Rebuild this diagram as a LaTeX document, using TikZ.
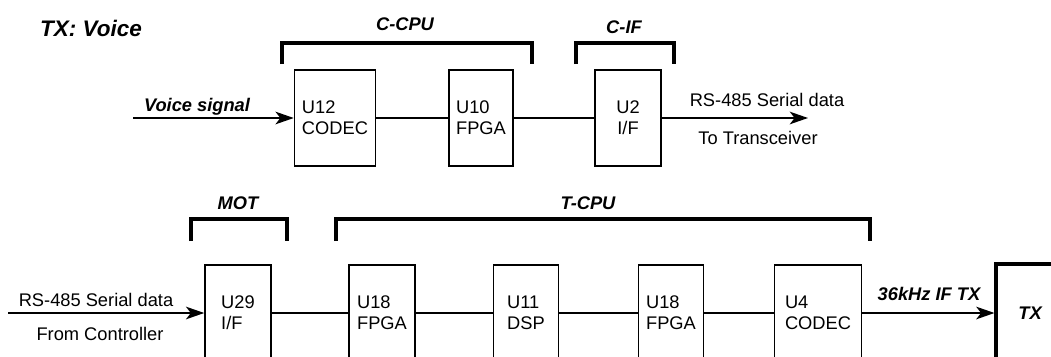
\documentclass[tikz,border=0pt]{standalone}
\usepackage{fontspec}
\setmainfont{Liberation Sans}
\usepackage{tikz}
\usetikzlibrary{arrows.meta}

\begin{document}
\begin{tikzpicture}[
    x=0.025cm, y=-0.025cm,
    font=\fontsize{13}{15}\selectfont,
    blk/.style={draw, line width=1.1pt, minimum height=2.4cm, align=left},
    txbox/.style={draw, line width=2.2pt, minimum width=1.7cm, minimum height=2.45cm, font=\fontsize{13}{15}\selectfont\bfseries\itshape},
    lbl/.style={anchor=base, inner sep=0pt},
    tag/.style={anchor=base, inner sep=0pt, font=\fontsize{13}{15}\selectfont\bfseries\itshape},
    brk/.style={line width=2.8pt},
    wire/.style={line width=1.1pt},
    arr/.style={-{Stealth[length=13pt, width=9pt, inset=3.5pt]}, line width=1.1pt}
]
\clip (0,0) rectangle (1051,356);

\node[tag, font=\fontsize{16}{18}\selectfont\bfseries\itshape] (title) at (91,36) {TX: Voice};

\node[tag] (ccpu) at (405,30) {C-CPU};
\node[tag] (cif) at (624,33) {C-IF};
\node[tag] (mot) at (238,209) {MOT};
\node[tag] (tcpu) at (588,209) {T-CPU};

\draw[brk] (282,64) |- (532,43) -- (532,64);
\draw[brk] (576,64) |- (674,43) -- (674,64);
\draw[brk] (191,241) |- (287,219) -- (287,241);
\draw[brk] (336,241) |- (870,219) -- (870,241);

\node[blk, minimum width=2.025cm] (u12) at (335,118) {U12\\CODEC};
\node[blk, minimum width=1.6cm] (u10) at (481,118) {U10\\FPGA};
\node[blk, minimum width=1.65cm, align=center] (u2) at (628,118) {U2\\I/F};

\node[blk, minimum width=1.65cm] (u29) at (238,313) {U29\\I/F};
\node[blk, minimum width=1.65cm] (u18a) at (382,313) {U18\\FPGA};
\node[blk, minimum width=1.625cm] (u11) at (526,313) {U11\\DSP};
\node[blk, minimum width=1.625cm] (u18b) at (671,313) {U18\\FPGA};
\node[blk, minimum width=2.175cm] (u4) at (818,313) {U4\\CODEC};
\node[txbox] (tx) at (1030,313) {TX};

\coordinate (vin) at (133,118);
\coordinate (tout) at (808,118);
\coordinate (rin) at (8,313);

\node[tag] (vsig) at (197,111) {Voice signal};
\node[lbl] (rstop) at (767,106) {RS-485 Serial data};
\node[lbl] (totrx) at (758,144) {To Transceiver};
\node[lbl] (rsbot) at (96,306) {RS-485 Serial data};
\node[lbl] (fromc) at (100,340) {From Controller};
\node[tag] (iftx) at (929,300) {36kHz IF TX};

\draw[arr] (vin) -- (u12);
\draw[wire] (u12) -- (u10);
\draw[wire] (u10) -- (u2);
\draw[arr] (u2) -- (tout);

\draw[arr] (rin) -- (u29);
\draw[wire] (u29) -- (u18a);
\draw[wire] (u18a) -- (u11);
\draw[wire] (u11) -- (u18b);
\draw[wire] (u18b) -- (u4);
\draw[arr] (u4) -- (tx);
\end{tikzpicture}
\end{document}
